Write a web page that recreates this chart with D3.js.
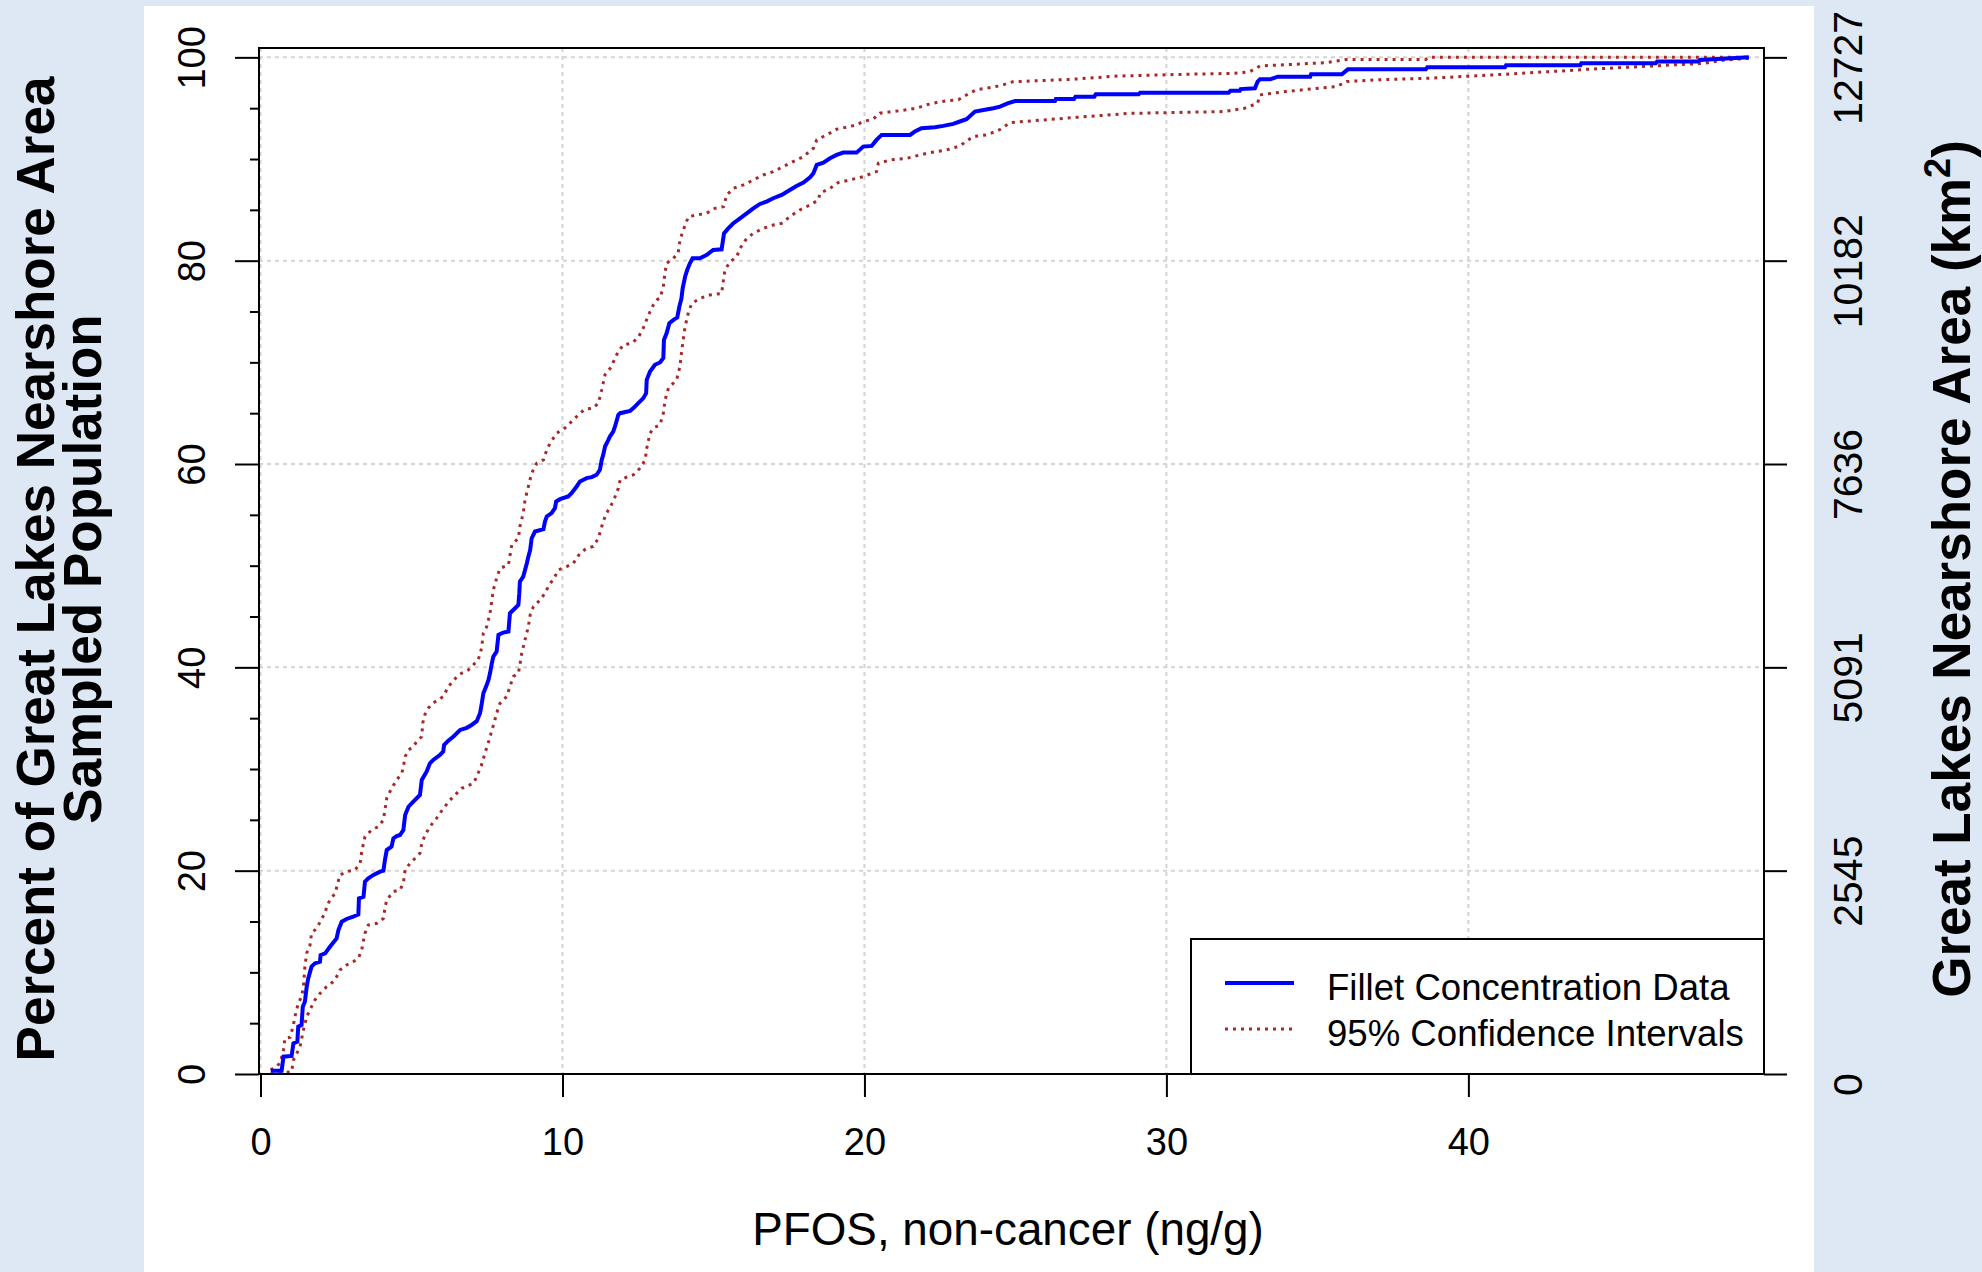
<!DOCTYPE html>
<html>
<head>
<meta charset="utf-8">
<script src="https://cdn.jsdelivr.net/npm/d3@7"></script>
<style>
  html, body { margin: 0; padding: 0; background: #dde8f4; }
  svg { display: block; }
  text { font-family: "Liberation Sans", Arial, Helvetica, sans-serif; fill: #000; }
</style>
</head>
<body>
<svg id="chart" width="1982" height="1272"></svg>
<script>
// ---------------- data ----------------
const xTicks = [0, 10, 20, 30, 40];
const yTicks = [0, 20, 40, 60, 80, 100];
const yMinorTicks = [5, 10, 15, 25, 30, 35, 45, 50, 55, 65, 70, 75, 85, 90, 95];
const rightTickLabels = ["0", "2545", "5091", "7636", "10182", "12727"];

const cdfX = [0.34,0.70,0.76,1.03,1.09,1.22,1.25,1.36,1.40,1.47,1.53,1.58,1.69,1.80,1.97,1.99,2.14,2.30,2.52,2.58,2.69,2.85,3.07,3.24,3.26,3.41,3.46,3.57,3.74,3.96,4.07,4.12,4.18,4.34,4.40,4.51,4.62,4.73,4.79,4.90,5.06,5.28,5.34,5.50,5.61,5.72,5.94,6.05,6.08,6.22,6.39,6.61,6.83,6.99,7.16,7.27,7.32,7.38,7.49,7.55,7.60,7.66,7.71,7.82,7.88,8.04,8.21,8.26,8.43,8.54,8.57,8.59,8.70,8.76,8.82,8.87,8.93,8.98,9.09,9.37,9.42,9.48,9.64,9.75,9.79,9.92,10.19,10.30,10.47,10.58,10.80,10.97,11.13,11.24,11.30,11.35,11.41,11.52,11.57,11.68,11.74,11.85,11.91,12.24,12.35,12.51,12.68,12.77,12.79,12.90,13.06,13.23,13.34,13.36,13.45,13.54,13.70,13.80,13.87,13.94,13.98,14.06,14.13,14.22,14.31,14.55,14.77,14.99,15.27,15.35,15.49,15.66,15.88,16.10,16.32,16.54,16.76,16.98,17.26,17.53,17.75,17.98,18.20,18.31,18.42,18.64,18.86,19.08,19.30,19.74,19.96,20.24,20.40,20.57,21.51,21.67,21.89,22.33,22.61,22.94,23.16,23.38,23.66,23.99,24.27,24.49,24.74,24.99,26.31,26.34,26.94,26.99,27.61,27.66,29.08,29.13,32.06,32.12,32.43,32.46,32.93,33.02,33.10,33.44,33.69,34.76,34.79,35.81,36.01,38.59,38.64,41.21,41.25,43.71,43.74,46.20,46.25,47.60,47.67,49.29];
const cdfY = [0.33,0.33,1.70,1.77,3.02,3.18,4.66,4.82,6.62,7.11,8.59,9.41,10.56,10.88,11.05,11.70,11.87,12.52,13.34,14.16,14.98,15.25,15.47,15.70,17.28,17.44,18.92,19.25,19.58,19.90,20.00,21.05,22.03,22.36,23.18,23.41,23.51,24.00,25.47,26.29,26.79,27.44,28.92,29.74,30.56,30.89,31.38,31.71,32.37,32.79,33.20,33.84,34.05,34.33,34.70,35.48,36.30,37.45,38.27,38.76,39.42,40.40,41.06,41.55,43.19,43.42,43.52,45.32,45.81,46.14,47.29,48.44,48.93,49.58,50.24,50.89,51.55,52.70,53.36,53.59,54.34,54.84,55.17,55.66,56.31,56.54,56.81,57.13,57.79,58.28,58.61,58.71,58.94,59.43,60.41,60.90,61.72,62.38,62.70,63.20,63.69,64.84,65.00,65.23,65.50,65.99,66.48,66.97,68.28,69.10,69.76,69.99,70.42,72.20,72.88,73.86,74.23,74.42,75.47,76.29,77.28,78.42,79.08,79.74,80.23,80.23,80.56,81.05,81.12,82.69,83.18,83.68,84.17,84.66,85.15,85.58,85.81,86.14,86.47,86.96,87.35,87.68,88.20,88.60,89.42,89.65,90.07,90.40,90.63,90.63,91.22,91.29,91.88,92.37,92.37,92.70,93.03,93.13,93.26,93.46,93.69,93.92,94.67,94.84,95.00,95.15,95.47,95.70,95.70,95.90,95.90,96.13,96.13,96.36,96.36,96.52,96.52,96.72,96.72,96.88,96.95,97.61,97.84,97.84,98.10,98.10,98.33,98.33,98.82,98.82,99.02,99.02,99.22,99.22,99.41,99.41,99.58,99.58,99.74,100];

const upperX = [0.34,0.65,0.76,0.81,0.98,1.09,1.14,1.25,1.36,1.42,1.47,1.53,1.58,1.64,1.69,1.80,1.92,2.03,2.14,2.19,2.30,2.47,2.63,2.85,3.13,3.30,3.35,3.46,3.68,3.90,4.07,4.12,4.18,4.34,4.51,4.68,4.73,4.79,4.90,5.06,5.17,5.34,5.37,5.45,5.56,5.72,6.05,6.22,6.55,6.88,7.21,7.32,7.38,7.49,7.60,7.71,7.82,7.93,8.21,8.32,8.54,8.59,8.70,8.76,8.87,8.98,9.15,9.37,9.48,9.59,9.81,10.08,10.36,10.58,10.75,11.02,11.19,11.30,11.41,11.63,11.68,11.85,12.02,12.30,12.51,12.68,12.84,13.01,13.15,13.23,13.34,13.39,13.45,13.67,13.83,13.89,14.00,14.17,14.44,14.77,15.05,15.33,15.44,15.66,15.99,16.32,16.65,16.98,17.31,17.64,17.98,18.31,18.42,18.75,19.08,19.41,19.74,19.96,20.29,20.51,20.95,21.40,21.73,22.06,22.39,22.72,23.11,23.49,23.72,24.05,24.49,24.91,26.86,28.37,30.57,32.26,32.76,33.10,35.30,35.97,38.59,38.67,49.29];
const upperY = [0.39,1.05,2.36,3.51,3.61,4.82,5.64,6.95,7.61,8.59,10.56,11.87,12.36,12.69,13.84,14.16,14.66,15.31,15.81,16.46,17.12,17.77,19.58,19.90,20.07,20.72,21.87,23.35,24.00,24.33,24.99,25.97,27.12,28.10,28.92,29.58,30.23,31.21,31.87,32.20,32.69,33.18,34.49,35.40,36.00,36.50,37.12,38.10,39.25,39.74,40.73,41.87,43.35,44.00,45.32,47.61,48.76,49.74,50.07,52.04,52.70,53.85,55.16,56.47,57.78,59.10,60.08,60.41,61.39,62.05,63.03,63.53,64.35,65.00,65.40,65.50,65.99,67.30,68.78,69.60,70.00,71.08,71.73,71.88,72.45,73.40,74.60,75.65,76.20,76.29,77.44,78.75,79.74,80.23,80.72,82.03,83.01,84.33,84.49,84.66,85.15,85.31,86.46,87.12,87.45,87.94,88.43,88.76,89.25,89.75,90.24,91.06,91.88,92.37,92.93,93.13,93.36,93.69,93.92,94.51,94.67,94.84,95.00,95.33,95.56,95.73,95.83,96.49,96.82,96.98,97.20,97.60,97.84,98.16,98.33,98.43,98.59,99.15,99.48,99.80,99.80,100,100];

const lowerX = [0.34,1.03,1.09,1.20,1.31,1.42,1.53,1.69,1.80,1.97,2.19,2.41,2.52,2.58,2.63,2.85,3.07,3.24,3.35,3.46,3.57,3.85,4.07,4.12,4.18,4.40,4.62,4.73,4.79,4.95,5.12,5.28,5.34,5.45,5.61,5.83,5.94,6.11,6.22,6.39,6.66,7.05,7.16,7.32,7.43,7.54,7.65,7.76,7.82,7.93,8.15,8.26,8.37,8.54,8.59,8.65,8.76,8.87,8.93,9.04,9.26,9.42,9.53,9.75,9.86,10.14,10.36,10.58,10.80,11.02,11.19,11.30,11.41,11.52,11.68,11.85,11.91,12.18,12.35,12.57,12.74,12.79,12.90,13.01,13.23,13.34,13.40,13.51,13.78,13.89,13.95,14.06,14.17,14.28,14.55,14.88,15.27,15.33,15.38,15.55,15.77,15.88,16.10,16.32,16.65,16.98,17.26,17.53,17.86,18.20,18.47,18.53,18.86,19.13,19.52,19.96,20.40,20.46,20.85,21.40,21.84,22.17,22.72,23.16,23.60,24.05,24.49,24.82,27.02,28.79,31.92,32.59,33.02,33.10,33.95,35.64,35.97,36.99,38.68,40.28,41.72,43.06,43.91,45.60,47.80,48.47,49.29];
const lowerY = [0.00,0.23,1.38,2.03,2.69,4.33,5.64,6.62,7.28,7.93,8.59,9.08,9.57,9.90,10.23,10.72,11.05,11.38,12.20,13.84,14.66,14.82,15.31,16.30,17.12,17.94,18.11,18.77,20.07,20.72,21.22,21.71,22.69,23.51,24.33,25.15,25.65,26.30,26.79,27.28,28.10,28.59,29.25,30.40,31.54,32.53,33.68,34.82,35.48,36.46,37.12,38.10,39.09,39.42,40.24,41.39,42.70,44.00,45.16,45.98,46.63,47.29,47.94,48.93,49.58,49.91,50.24,51.22,51.71,51.88,52.70,53.85,54.83,55.49,56.31,57.62,58.44,58.77,58.94,59.59,60.41,61.56,63.03,63.53,63.86,65.00,66.32,67.47,68.28,69.60,71.20,73.50,74.90,75.80,76.29,76.62,76.78,78.09,79.08,79.90,80.39,81.21,82.19,82.69,83.18,83.51,83.68,84.33,84.99,85.48,85.97,86.63,87.12,87.68,87.94,88.27,88.76,89.58,89.91,90.07,90.40,90.63,90.89,91.29,92.21,92.37,92.90,93.58,94.10,94.49,94.67,95.00,95.49,96.31,96.64,97.13,97.62,97.79,97.95,98.18,98.43,98.66,98.82,99.08,99.41,99.74,99.90];

const legendLabels = ["Fillet Concentration Data", "95% Confidence Intervals"];
const xTitle = "PFOS, non-cancer (ng/g)";
const yTitleLines = ["Percent of Great Lakes Nearshore Area", "Sampled Population"];
const y2Title = "Great Lakes Nearshore Area (km";

// ---------------- layout ----------------
const W = 1982, H = 1272;
const L = 259, R = 1764, T = 48, B = 1074;
const blue = "#0000ff", red = "#a52a2a";

const svg = d3.select("#chart");
svg.append("rect").attr("width", W).attr("height", H).attr("fill", "#dde8f4");
svg.append("rect").attr("x", 144).attr("y", 6).attr("width", 1814 - 144).attr("height", H - 6).attr("fill", "#ffffff");

const x = d3.scaleLinear().domain([-0.05, 49.79]).range([L, R]);
const y = d3.scaleLinear().domain([0, 100.92]).range([B, T]);

// grid
const grid = svg.append("g").attr("stroke", "#d3d3d3").attr("stroke-width", 2).attr("stroke-dasharray", "4,4");
grid.selectAll("line.v").data(xTicks).join("line")
  .attr("x1", d => x(d)).attr("x2", d => x(d)).attr("y1", T).attr("y2", B);
grid.selectAll("line.h").data(yTicks).join("line")
  .attr("x1", L).attr("x2", R).attr("y1", d => y(d)).attr("y2", d => y(d));

// curves
const line = d3.line().x(d => x(d[0])).y(d => y(d[1]));
svg.append("clipPath").attr("id", "clip").append("rect")
  .attr("x", L).attr("y", T).attr("width", R - L).attr("height", B - T);
const plotG = svg.append("g").attr("clip-path", "url(#clip)");
plotG.append("path").datum(upperX.map((v, i) => [v, upperY[i]]))
  .attr("d", line).attr("fill", "none").attr("stroke", red).attr("stroke-width", 3).attr("stroke-dasharray", "3,5");
plotG.append("path").datum(lowerX.map((v, i) => [v, lowerY[i]]))
  .attr("d", line).attr("fill", "none").attr("stroke", red).attr("stroke-width", 3).attr("stroke-dasharray", "3,5");
plotG.append("path").datum(cdfX.map((v, i) => [v, cdfY[i]]))
  .attr("d", line).attr("fill", "none").attr("stroke", blue).attr("stroke-width", 4).attr("stroke-linejoin", "miter");

// axes
const fs = 38;
const gx = svg.append("g").attr("transform", `translate(0,${B})`)
  .call(d3.axisBottom(x).tickValues(xTicks).tickSize(23).tickFormat(d3.format("d")));
gx.select(".domain").remove();
gx.selectAll(".tick line").attr("stroke", "#000").attr("stroke-width", 2);
gx.selectAll(".tick text").attr("y", 81).attr("dy", 0).style("font-size", fs + "px").style("font-family", "Liberation Sans, Arial, sans-serif");

const gy = svg.append("g").attr("transform", `translate(${L},0)`)
  .call(d3.axisLeft(y).tickValues(yTicks).tickSize(24).tickFormat(d3.format("d")));
gy.select(".domain").remove();
gy.selectAll(".tick line").attr("stroke", "#000").attr("stroke-width", 2);
gy.selectAll(".tick text").attr("x", 0).attr("dy", 0).attr("y", 0)
  .attr("transform", "translate(-54,0) rotate(-90)").attr("text-anchor", "middle")
  .style("font-size", fs + "px").style("font-family", "Liberation Sans, Arial, sans-serif");

const gyMinor = svg.append("g").attr("transform", `translate(${L},0)`)
  .call(d3.axisLeft(y).tickValues(yMinorTicks).tickSize(9).tickFormat(""));
gyMinor.select(".domain").remove();
gyMinor.selectAll(".tick line").attr("stroke", "#000").attr("stroke-width", 2);

const y2 = d3.scaleOrdinal().domain(yTicks).range(rightTickLabels);
const gr = svg.append("g").attr("transform", `translate(${R},0)`)
  .call(d3.axisRight(y).tickValues(yTicks).tickSize(23).tickFormat(d => y2(d)));
gr.select(".domain").remove();
gr.selectAll(".tick line").attr("stroke", "#000").attr("stroke-width", 2);
gr.selectAll(".tick text").attr("x", 0).attr("dy", 0).attr("y", 0)
  .attr("transform", "translate(98,10) rotate(-90)").attr("text-anchor", "middle")
  .style("font-size", "41px").style("font-family", "Liberation Sans, Arial, sans-serif");

// box
svg.append("rect").attr("x", L).attr("y", T).attr("width", R - L).attr("height", B - T)
  .attr("fill", "none").attr("stroke", "#000").attr("stroke-width", 2);

// legend
const lg = svg.append("g");
lg.append("rect").attr("x", 1191).attr("y", 939).attr("width", R - 1191).attr("height", B - 939)
  .attr("fill", "#fff").attr("stroke", "#000").attr("stroke-width", 2);
lg.append("line").attr("x1", 1225).attr("x2", 1294).attr("y1", 983).attr("y2", 983)
  .attr("stroke", blue).attr("stroke-width", 4);
lg.append("line").attr("x1", 1225).attr("x2", 1294).attr("y1", 1029).attr("y2", 1029)
  .attr("stroke", red).attr("stroke-width", 3).attr("stroke-dasharray", "3,5");
lg.selectAll("text").data(legendLabels).join("text")
  .attr("x", 1327).attr("y", (d, i) => 1000 + i * 46)
  .style("font-size", "36.6px").text(d => d);

// titles
svg.append("text").attr("x", 1008).attr("y", 1245).attr("text-anchor", "middle")
  .style("font-size", "45.8px").text(xTitle);

const yt = svg.append("g");
yt.selectAll("text").data(yTitleLines).join("text")
  .attr("transform", (d, i) => `translate(${54 + i * 47},569) rotate(-90)`)
  .attr("text-anchor", "middle").style("font-size", "53px").style("font-weight", "bold")
  .text(d => d);

const t2 = svg.append("text").attr("transform", "translate(1970,569) rotate(-90)")
  .attr("text-anchor", "middle").style("font-size", "53px").style("font-weight", "bold");
t2.append("tspan").text(y2Title);
t2.append("tspan").attr("dy", -20).style("font-size", "36px").text("2");
t2.append("tspan").attr("dy", 20).text(")");
</script>
</body>
</html>
